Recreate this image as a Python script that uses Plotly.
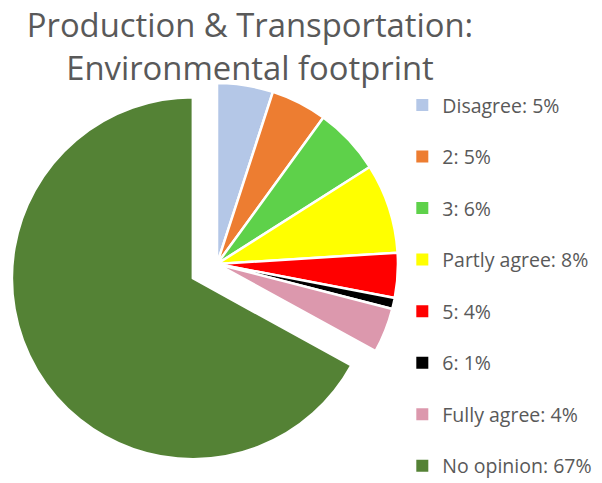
import plotly.graph_objects as go

labels = ["Disagree", "2", "3", "Partly agree", "5", "6", "Fully agree", "No opinion"]
values = [5, 5, 6, 8, 4, 1, 4, 67]
colors = ["#B4C7E7", "#ED7D31", "#5ED14A", "#FFFF00", "#FF0000", "#000000", "#DC98AD", "#548235"]
pulls = [0, 0, 0, 0, 0, 0, 0, 0.155]

W, H = 602, 483
fig = go.Figure()
fig.add_trace(go.Pie(
    labels=labels, values=values, sort=False, direction="clockwise", rotation=0,
    marker=dict(colors=colors, line=dict(color="white", width=2.5)),
    pull=pulls, textinfo="none", hoverinfo="label+percent", showlegend=False,
    domain=dict(x=[0, 418 / W], y=[1 - 465 / H, 1 - 47 / H]),
))
for i, (lab, val, col) in enumerate(zip(labels, values, colors)):
    fig.add_trace(go.Scatter(
        x=[None], y=[None], mode="markers", name=f"{lab}: {val}%",
        marker=dict(symbol="square", size=7, color=col),
        legendgroup=str(i), showlegend=True,
    ))

fig.update_layout(
    width=W, height=H,
    margin=dict(l=0, r=0, t=0, b=0, autoexpand=False),
    paper_bgcolor="white", plot_bgcolor="white",
    title=dict(text="Production & Transportation:<br>Environmental footprint",
               x=242 / W, xanchor="center", y=0.94, yanchor="top",
               font=dict(family="Open Sans", size=32.8, color="#595959")),
    xaxis=dict(visible=False), yaxis=dict(visible=False),
    legend=dict(x=0.655, xanchor="left", y=0.839, yanchor="top",
                font=dict(family="Open Sans", size=19.5, color="#595959"),
                tracegroupgap=23.2, itemsizing="constant", bgcolor="rgba(0,0,0,0)"),
)
fig.write_html("out.html")
